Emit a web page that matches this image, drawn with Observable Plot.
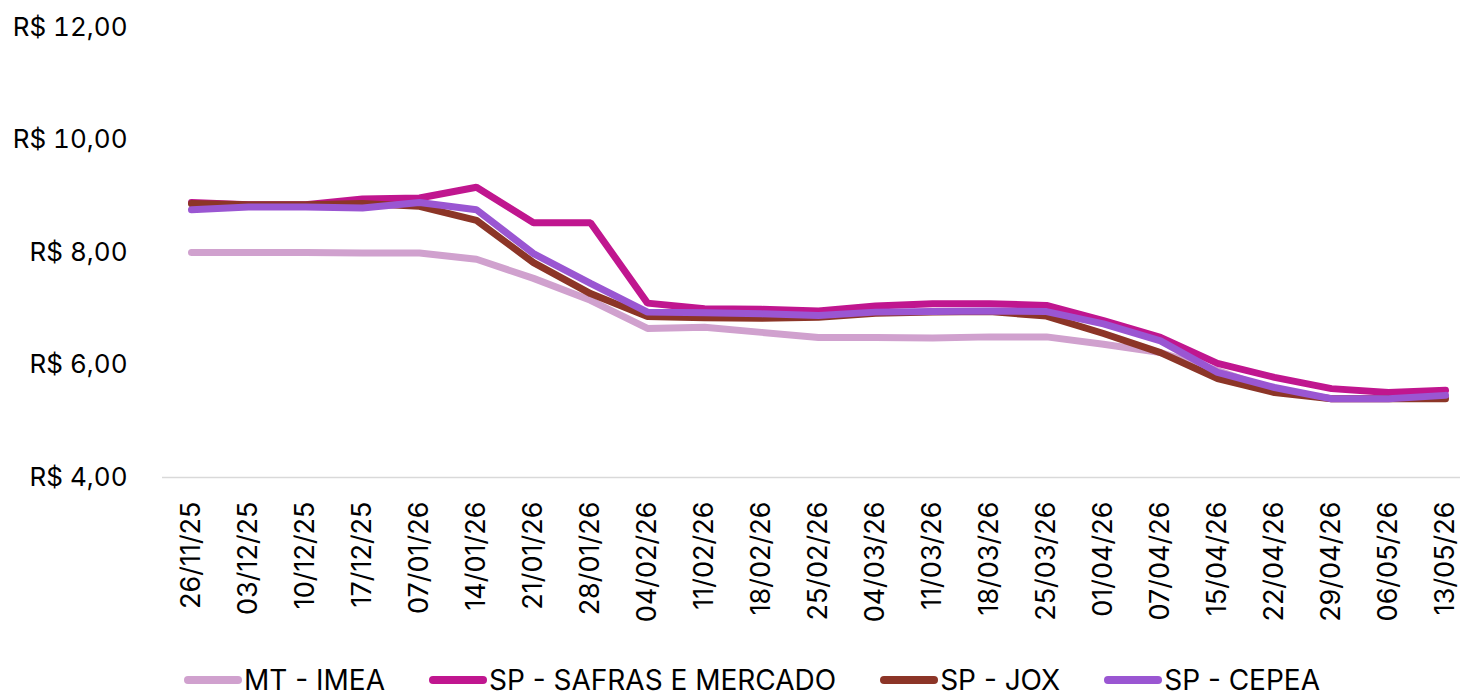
<!DOCTYPE html>
<html>
<head>
<meta charset="utf-8">
<script src="https://cdn.jsdelivr.net/npm/d3@7"></script>
<script src="https://cdn.jsdelivr.net/npm/@observablehq/plot@0.6"></script>
<style>
  html, body { margin: 0; padding: 0; background: #fff; }
  body { width: 1460px; height: 696px; overflow: hidden; font-family: "Inter", "Noto Sans", sans-serif; }
  #legend { display: flex; justify-content: center; align-items: center; height: 32px; padding-left: 44px; font-size: 28px; color: #000; white-space: nowrap; }
  .item { display: flex; align-items: center; margin: 0 22px; }
  .sw { width: 58px; height: 8px; border-radius: 4px; margin-right: 2px; }
</style>
</head>
<body>
<div id="chart"></div>
<div id="legend"></div>
<script>
const dates = ["26/11/25","03/12/25","10/12/25","17/12/25","07/01/26","14/01/26","21/01/26","28/01/26","04/02/26","11/02/26","18/02/26","25/02/26","04/03/26","11/03/26","18/03/26","25/03/26","01/04/26","07/04/26","15/04/26","22/04/26","29/04/26","06/05/26","13/05/26"];
const seriesNames = ["MT - IMEA","SP - SAFRAS E MERCADO","SP - JOX","SP - CEPEA"];
const seriesColors = ["#D0A1CE","#C0168F","#8C3527","#9A56D2"];
const mtImea   = [8.00,8.00,8.00,7.99,7.99,7.88,7.54,7.15,6.65,6.67,6.58,6.49,6.49,6.48,6.50,6.50,6.37,6.22,5.90,5.55,5.40,5.40,5.45];
const spSafras = [8.89,8.85,8.85,8.95,8.97,9.16,8.53,8.53,7.10,7.00,6.99,6.96,7.05,7.09,7.09,7.06,6.79,6.49,6.03,5.78,5.58,5.51,5.55];
const spJox    = [8.87,8.85,8.85,8.87,8.82,8.57,7.82,7.27,6.86,6.84,6.83,6.85,6.92,6.94,6.95,6.87,6.56,6.22,5.76,5.51,5.40,5.40,5.40];
const spCepea  = [8.76,8.81,8.81,8.79,8.89,8.76,7.98,7.45,6.94,6.93,6.91,6.88,6.94,6.95,6.96,6.95,6.73,6.43,5.87,5.60,5.40,5.40,5.46];
const yTicks = [4,6,8,10,12];

const allSeries = [mtImea, spSafras, spJox, spCepea];
const data = [];
allSeries.forEach((vals, s) => vals.forEach((v, i) => data.push({date: dates[i], value: v, series: seriesNames[s]})));

const fmt = d => "R$ " + d.toFixed(2).replace(".", ",");

const chart = Plot.plot({
  width: 1460,
  height: 664,
  marginTop: 27,
  marginBottom: 187,
  marginLeft: 190,
  marginRight: 15,
  style: {fontFamily: "Inter, 'Noto Sans', sans-serif", color: "#000", background: "#fff"},
  x: {type: "point", domain: dates, padding: 0},
  y: {domain: [4, 12]},
  color: {domain: seriesNames, range: seriesColors},
  marks: [
    Plot.ruleY([4], {stroke: "#D9D9D9", strokeWidth: 1.5, insetLeft: -28, insetRight: -15}),
    Plot.axisY({ticks: yTicks, tickSize: 0, tickPadding: 63, tickFormat: fmt, fontSize: 26, label: null}),
    Plot.axisX({tickSize: 0, tickRotate: -90, tickPadding: 24, fontSize: 27, label: null}),
    Plot.line(data, {x: "date", y: "value", z: "series", stroke: "series", strokeWidth: 7, strokeLinejoin: "miter", strokeLinecap: "round"})
  ]
});
document.getElementById("chart").appendChild(chart);

const legend = document.getElementById("legend");
seriesNames.forEach((n, i) => {
  const it = document.createElement("div");
  it.className = "item";
  const sw = document.createElement("span");
  sw.className = "sw";
  sw.style.background = seriesColors[i];
  const t = document.createElement("span");
  t.textContent = n;
  it.appendChild(sw); it.appendChild(t);
  legend.appendChild(it);
});
</script>
</body>
</html>
